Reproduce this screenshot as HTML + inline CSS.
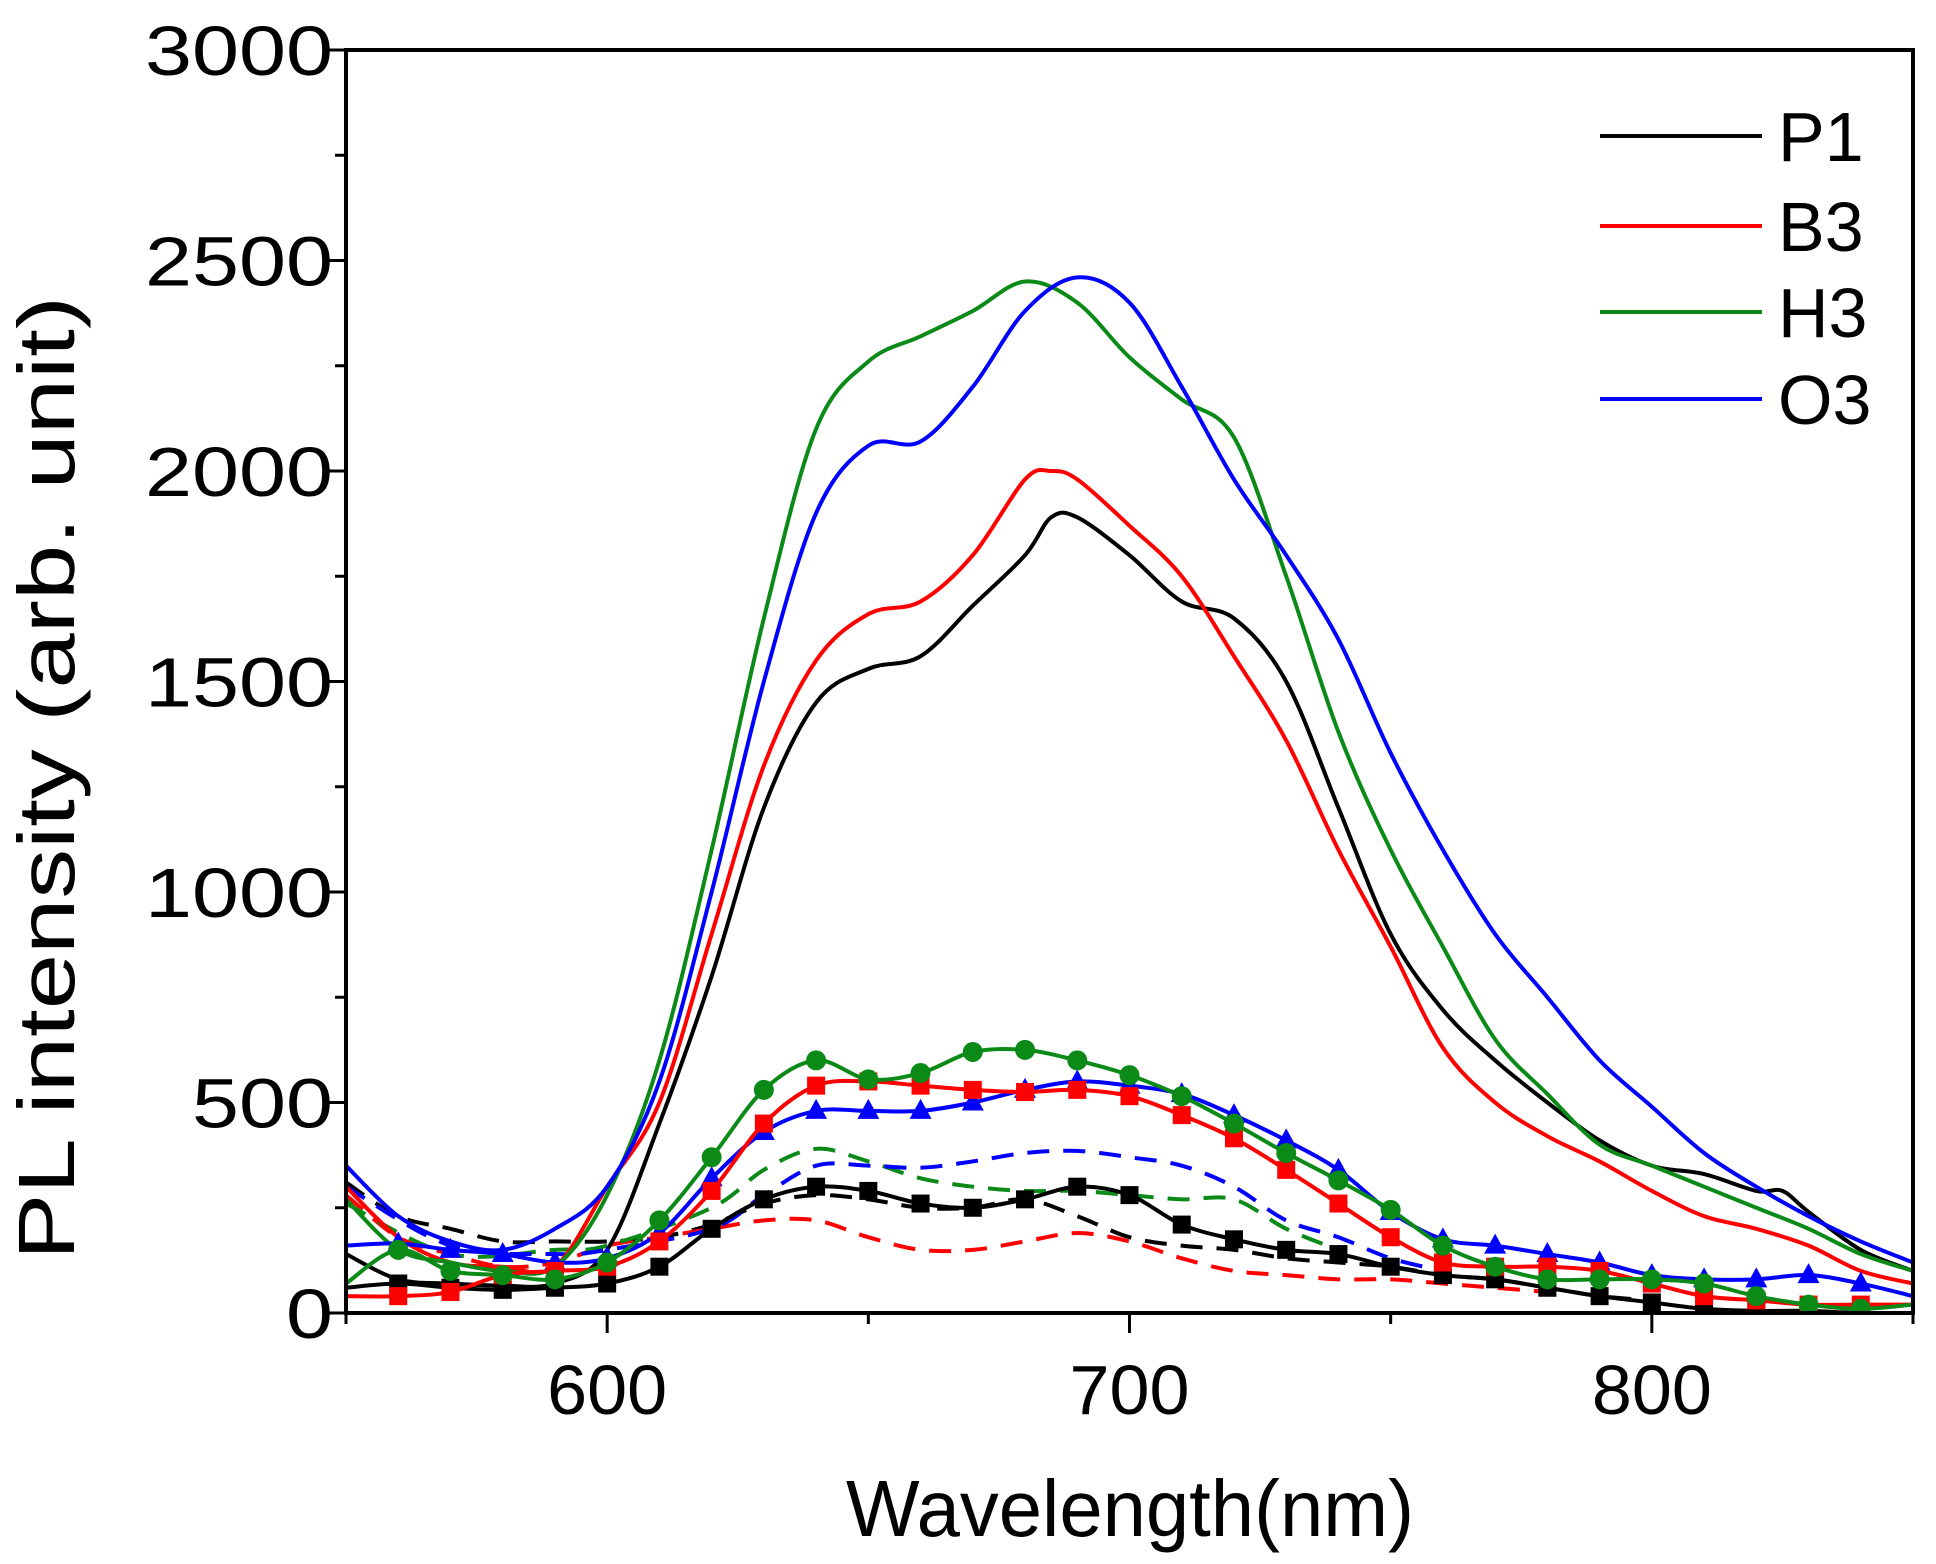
<!DOCTYPE html>
<html><head><meta charset="utf-8"><style>
html,body{margin:0;padding:0;background:#fff;}
svg{display:block;font-family:"Liberation Sans",Arial,sans-serif;}
</style></head><body>
<svg id="s" width="1936" height="1564" viewBox="0 0 1936 1564" xmlns="http://www.w3.org/2000/svg"></svg>
<script>
const X0=346,X1=1913,Y0=50,Y1=1313;
const px=x=>X0+(x-550)*(X1-X0)/300, py=y=>Y1-y*(Y1-Y0)/3000;
let h='';
function toPts(d){const a=[];for(let i=0;i<d.length;i+=2)a.push([d[i],d[i+1]]);return a;}
function path(p){
 let s=`M${px(p[0][0])},${py(p[0][1])}`;
 for(let i=0;i<p.length-1;i++){const a=p[Math.max(0,i-1)],b=p[i],c=p[i+1],d=p[Math.min(p.length-1,i+2)];
  const bx=px(b[0]),by=py(b[1]),cx=px(c[0]),cy=py(c[1]);
  const c1x=bx+(cx-px(a[0]))/6,c1y=by+(cy-py(a[1]))/6,c2x=cx-(px(d[0])-bx)/6,c2y=cy-(py(d[1])-by)/6;
  s+=`C${c1x},${c1y} ${c2x},${c2y} ${cx},${cy}`;}
 return s;}
const C={k:'#000',r:'#ff0000',g:'#0b8a17',b:'#0000ff'};
function line(d,c,dash){h+=`<path d="${path(toPts(d))}" fill="none" stroke="${c}" stroke-width="4" ${dash?'stroke-dasharray="22,14"':''} stroke-linejoin="round"/>`;}
function marks(d,c,t){const p=toPts(d);for(const [x,y] of p){if(x<=550||x>=850)continue;const X=px(x),Y=py(y);
 if(t=='s')h+=`<rect x="${X-9}" y="${Y-9}" width="18" height="18" fill="${c}"/>`;
 else if(t=='c')h+=`<circle cx="${X}" cy="${Y}" r="10" fill="${c}"/>`;
 else h+=`<polygon points="${X},${Y-12} ${X+11},${Y+8} ${X-11},${Y+8}" fill="${c}"/>`;}}
h+=`<defs><clipPath id="cp"><rect x="${X0}" y="${Y0}" width="${X1-X0}" height="${Y1-Y0}"/></clipPath></defs><g clip-path="url(#cp)">`;
line([550,310,560,230,570,200,580,170,590,170,600,170,610,180,620,210,630,260,640,280,650,270,660,250,670,250,680,270,690,230,700,180,710,160,720,150,730,130,740,120,750,110,760,90,770,80,780,60,790,40,800,30],C.k,1);
line([550,280,560,180,570,140,580,110,590,120,600,160,610,180,620,200,630,220,640,220,650,180,660,150,670,150,680,170,690,190,700,170,710,130,720,100,730,90,740,80,750,80,760,70,770,60,780,50],C.r,1);
line([550,260,570,140,590,150,600,160,620,250,630,340,640,390,650,360,660,320,670,300,680,290,690,290,700,280,710,270,720,270,730,200,740,150],C.g,1);
line([550,300,570,160,590,140,600,150,620,200,630,280,640,350,650,350,660,345,670,360,680,380,690,385,700,370,710,350,720,300,730,220,740,180,750,130,760,100],C.b,1);
line([550,140,560,80,570,70,580,65,590,70,600,150,610,450,620,800,630,1200,640,1450,650,1530,660,1560,670,1680,680,1800,685,1890,690,1890,700,1800,710,1690,720,1650,730,1500,740,1200,750,900,760,720,770,600,780,500,790,410,800,350,810,330,820,290,825,290,830,240,840,150,850,100],C.k);
line([550,300,560,180,570,120,580,110,590,110,600,300,610,500,620,900,630,1300,640,1550,650,1660,660,1690,670,1800,680,1980,685,2000,690,1980,700,1870,710,1750,720,1560,730,1360,740,1100,750,870,760,630,770,500,780,420,790,360,800,290,810,230,820,200,830,160,840,100,850,70],C.r);
line([550,270,560,150,570,120,580,100,590,110,600,280,610,600,620,1100,630,1650,640,2100,650,2260,660,2320,670,2380,680,2450,690,2400,700,2270,710,2170,720,2080,730,1750,740,1380,750,1100,760,870,770,650,780,520,790,400,800,350,810,300,820,250,830,200,840,140,850,100],C.g);
line([550,350,560,230,570,170,580,150,590,200,600,300,610,550,620,1000,630,1500,640,1900,650,2060,660,2070,670,2200,680,2380,690,2460,700,2400,710,2200,720,1980,730,1800,740,1600,750,1330,760,1100,770,900,780,750,790,600,800,490,810,380,820,300,830,230,840,170,850,120],C.b);
const Pk=[550,60,560,70,570,60,580,55,590,60,600,70,610,110,620,200,630,270,640,300,650,290,660,260,670,250,680,270,690,300,700,280,710,210,720,175,730,150,740,140,750,110,760,90,770,80,780,60,790,40,800,25,810,10,820,5,830,5,840,0,850,0];
const Pr=[550,40,560,40,570,50,580,90,590,100,600,110,610,170,620,290,630,450,640,540,650,550,660,540,670,530,680,525,690,530,700,515,710,470,720,415,730,340,740,260,750,180,760,120,770,110,780,110,790,100,800,70,810,40,820,30,830,20,840,20,850,20];
const Pg=[550,70,560,150,570,100,580,90,590,80,600,120,610,220,620,370,630,530,640,600,650,555,660,570,670,620,680,625,690,600,700,565,710,515,720,450,730,380,740,315,750,245,760,160,770,110,780,80,790,80,800,80,810,70,820,40,830,20,840,10,850,20];
const Pb=[550,160,560,165,570,150,580,140,590,120,600,130,610,190,620,320,630,430,640,480,650,480,660,480,670,500,680,530,690,550,700,540,710,520,720,470,730,410,740,340,750,240,760,175,770,160,780,140,790,120,800,90,810,80,820,80,830,90,840,70,850,40];
line(Pk,C.k);marks(Pk,C.k,'s');line(Pb,C.b);marks(Pb,C.b,'t');line(Pr,C.r);marks(Pr,C.r,'s');line(Pg,C.g);marks(Pg,C.g,'c');
h+='</g>';
h+=`<rect x="${X0}" y="${Y0}" width="${X1-X0}" height="${Y1-Y0}" fill="none" stroke="#000" stroke-width="4"/>`;
for(let v=0;v<=3000;v+=250){const y=py(v),maj=v%500==0;h+=`<line x1="${X0-(maj?20:11)}" y1="${y}" x2="${X0}" y2="${y}" stroke="#000" stroke-width="3"/>`;
 if(maj){const s=String(v);h+=`<text x="333" y="${y+25}" font-size="70" text-anchor="end" textLength="${s.length*47}" lengthAdjust="spacingAndGlyphs">${s}</text>`;}}
for(let v=550;v<=850;v+=50){const x=px(v),maj=v%100==0;h+=`<line x1="${x}" y1="${Y1}" x2="${x}" y2="${Y1+(maj?20:11)}" stroke="#000" stroke-width="3"/>`;
 if(maj)h+=`<text x="${x}" y="1414" font-size="70" text-anchor="middle" textLength="120" lengthAdjust="spacingAndGlyphs">${v}</text>`;}
h+=`<text x="1130" y="1536" font-size="80" text-anchor="middle" textLength="568" lengthAdjust="spacingAndGlyphs">Wavelength(nm)</text>`;
h+=`<text transform="translate(74,778) rotate(-90)" font-size="80" text-anchor="middle" textLength="964" lengthAdjust="spacingAndGlyphs">PL intensity (arb. unit)</text>`;
const L=[['P1',C.k,136],['B3',C.r,226],['H3',C.g,312],['O3',C.b,399]];
for(const [t,c,y] of L){h+=`<line x1="1600" y1="${y}" x2="1762" y2="${y}" stroke="${c}" stroke-width="4"/><text x="1778" y="${y+25}" font-size="70">${t}</text>`;}
document.getElementById('s').innerHTML=h;
</script>
</body></html>
